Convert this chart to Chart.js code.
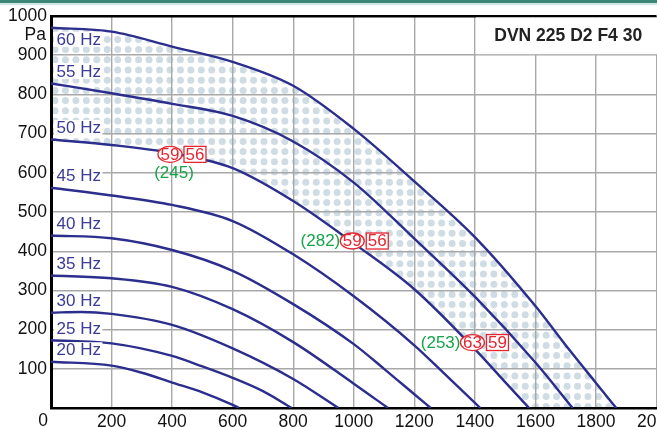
<!DOCTYPE html>
<html>
<head>
<meta charset="utf-8">
<script src="https://cdn.jsdelivr.net/npm/chart.js@4.4.1/dist/chart.umd.min.js"></script>
<style>
  html, body { margin: 0; padding: 0; background: #fff; overflow: hidden; }
  #wrap { position: absolute; left: 0; top: 0; width: 680px; height: 427px; }
  #bar { position: absolute; left: 0; top: 0; width: 657px; height: 3px; background: #3d8577; border-bottom: 2px solid #d3e5e1; }
</style>
</head>
<body>
<div id="wrap"><canvas id="fanChart" width="680" height="427"></canvas></div>
<div id="bar"></div>
<script>
const model = 'DVN 225 D2 F4 30';
const unitLabel = 'Pa';
const xTicks = [0, 200, 400, 600, 800, 1000, 1200, 1400, 1600, 1800, 2000];
const yTicks = [0, 100, 200, 300, 400, 500, 600, 700, 800, 900, 1000];

const speeds = ['20 Hz', '25 Hz', '30 Hz', '35 Hz', '40 Hz', '45 Hz', '50 Hz', '55 Hz', '60 Hz'];
// [flow, pressure]
const hz20 = [[0,118],[200,108],[300,90],[400,65],[500,40],[600,8],[621,0]];
const hz25 = [[0,173],[200,165],[400,133],[500,106],[600,77],[700,43],[795,0]];
const hz30 = [[0,243],[100,245],[200,240],[400,212],[600,152],[800,74],[949,0]];
const hz35 = [[0,338],[200,331],[400,309],[600,252],[800,168],[1000,62],[1113,0]];
const hz40 = [[0,440],[200,433],[400,403],[600,350],[800,265],[1000,163],[1100,100],[1200,35],[1254,0]];
const hz45 = [[0,562],[200,542],[400,518],[600,477],[800,392],[1000,285],[1200,160],[1300,87],[1418,0]];
const hz50 = [[0,685],[200,671],[400,650],[600,612],[800,528],[1000,420],[1200,303],[1400,150],[1500,66],[1579,0]];
const hz55 = [[0,828],[200,803],[400,776],[600,745],[800,680],[1000,575],[1200,432],[1400,284],[1600,116],[1723,0]];
const hz60 = [[0,970],[200,960],[400,922],[600,883],[800,822],[1000,712],[1200,578],[1400,436],[1600,260],[1700,160],[1800,64],[1867,0]];
const curves = [hz20, hz25, hz30, hz35, hz40, hz45, hz50, hz55, hz60];

// working points: flow, pressure, efficiency circle, box value, power
const workFlow = [393, 995, 1392];
const workPress = [647, 426, 167];
const workCircle = ['59', '59', '63'];
const workBox = ['56', '56', '59'];
const workPower = ['(245)', '(282)', '(253)'];
const workPowerSide = ['below', 'left', 'left'];

const lineColor = '#2b2e8c';
const hzColor = '#3a3a98';
const red = '#e52630';
const green = '#16a349';
const font = '"Liberation Sans", Arial, sans-serif';

function tracePath(ctx, line, reverse, move) {
  line.pathSegment(ctx, line.segments[0], { move: move, reverse: reverse });
}

const decorations = {
  id: 'decorations',
  beforeDraw(chart) {
    // dotted band between 50 Hz and 60 Hz, under the grid
    const ctx = chart.ctx, xs = chart.scales.x, ys = chart.scales.y, area = chart.chartArea;
    const top = chart.getDatasetMeta(8).dataset;
    const low = chart.getDatasetMeta(6).dataset;
    top.updateControlPoints(area, 'x');
    low.updateControlPoints(area, 'x');
    ctx.save();
    ctx.beginPath();
    tracePath(ctx, top, false, true);
    ctx.lineTo(xs.getPixelForValue(hz50[hz50.length - 1][0]), ys.getPixelForValue(0));
    tracePath(ctx, low, true, false);
    ctx.closePath();
    ctx.clip();
    ctx.fillStyle = '#d0dce4';
    for (let py = area.top + 3; py < area.bottom; py += 10.2) {
      for (let px = area.left + 4; px < area.right; px += 10.45) {
        ctx.beginPath();
        ctx.arc(px, py, 3.5, 0, Math.PI * 2);
        ctx.fill();
      }
    }
    ctx.restore();
  },
  beforeDatasetsDraw(chart) {
    const ctx = chart.ctx, xs = chart.scales.x, ys = chart.scales.y, area = chart.chartArea;

    // title cell without grid
    const bx = xs.getPixelForValue(1400) + 1;
    const by = ys.getPixelForValue(900) - 1;
    ctx.save();
    ctx.fillStyle = '#fff';
    ctx.fillRect(bx, area.top + 1.5, area.right - bx + 20, by - area.top - 1.5);
    ctx.fillStyle = '#222';
    ctx.font = 'bold 17.5px ' + font;
    ctx.textAlign = 'center';
    ctx.textBaseline = 'middle';
    ctx.fillText(model, (bx + xs.getPixelForValue(2000)) / 2 + 2, (area.top + by) / 2 + 1.5);
    ctx.restore();
  },
  afterDatasetsDraw(chart) {
    const ctx = chart.ctx, xs = chart.scales.x, ys = chart.scales.y, area = chart.chartArea;
    ctx.save();

    // speed labels
    ctx.font = '17px ' + font;
    ctx.textBaseline = 'middle';
    ctx.textAlign = 'left';
    speeds.forEach((s, i) => {
      const y0 = ys.getPixelForValue(curves[i][0][1]);
      const ty = i === 8 ? y0 + 12 : y0 - 11.5;
      const w = ctx.measureText(s).width;
      ctx.fillStyle = '#fff';
      ctx.fillRect(area.left + 3, ty - 8, w + 4, 15);
      ctx.fillStyle = hzColor;
      ctx.fillText(s, area.left + 5.5, ty + 0.5);
    });

    // working points
    workFlow.forEach((q, i) => {
      const cx = xs.getPixelForValue(q), cy = ys.getPixelForValue(workPress[i]);
      ctx.lineWidth = 1.3;
      ctx.strokeStyle = red;
      ctx.fillStyle = '#fff';
      ctx.beginPath();
      ctx.ellipse(cx, cy, 12, 8, 0, 0, Math.PI * 2);
      ctx.fill();
      ctx.stroke();
      const bx = cx + 14;
      ctx.fillRect(bx, cy - 8, 22, 16);
      ctx.strokeRect(bx, cy - 8, 22, 16);
      ctx.fillStyle = red;
      ctx.textAlign = 'center';
      ctx.fillText(workCircle[i], cx, cy + 0.5);
      ctx.fillText(workBox[i], bx + 11, cy + 0.5);
      ctx.fillStyle = green;
      if (workPowerSide[i] === 'below') {
        ctx.fillText(workPower[i], cx + 4, cy + 19);
      } else {
        ctx.textAlign = 'right';
        ctx.fillText(workPower[i], cx - 12, cy + 0.5);
      }
    });

    // unit and origin labels
    ctx.fillStyle = '#111';
    ctx.font = '17.5px ' + font;
    ctx.textAlign = 'right';
    ctx.fillText(unitLabel, area.left - 5, area.top + 19);
    ctx.textAlign = 'center';
    ctx.textBaseline = 'top';
    ctx.fillText('0', xs.getPixelForValue(0) - 8, area.bottom + 4);
    ctx.restore();
  }
};

const ctx = document.getElementById('fanChart').getContext('2d');
new Chart(ctx, {
  type: 'line',
  data: {
    datasets: curves.map((c, i) => ({
      label: speeds[i],
      data: c.map(p => ({ x: p[0], y: p[1] })),
      borderColor: lineColor,
      borderWidth: 2.4,
      pointRadius: 0,
      cubicInterpolationMode: 'monotone',
      fill: false
    }))
  },
  options: {
    responsive: false,
    animation: false,
    layout: { padding: { top: 16, right: 20, left: 0, bottom: 0 } },
    plugins: { legend: { display: false }, tooltip: { enabled: false } },
    scales: {
      x: {
        type: 'linear',
        min: 0,
        max: 2000,
        afterBuildTicks: s => { s.ticks = xTicks.map(v => ({ value: v })); },
        afterFit: s => { s.height = 19; },
        ticks: {
          padding: 4,
          color: '#111',
          font: { family: font, size: 17.5 },
          callback: v => (v === 0 ? '' : v)
        },
        grid: {
          drawTicks: false,
          color: c => (c.tick && c.tick.value === 0 ? 'rgba(0,0,0,0)' : '#a8a8a8'),
          lineWidth: 1.4
        },
        border: { color: '#000', width: 2.5 }
      },
      y: {
        type: 'linear',
        min: 0,
        max: 1000,
        afterBuildTicks: s => { s.ticks = yTicks.map(v => ({ value: v })); },
        afterFit: s => { s.width = 51; },
        ticks: {
          padding: 4,
          color: '#111',
          font: { family: font, size: 17.5 },
          callback: v => (v === 0 ? '' : v)
        },
        grid: {
          drawTicks: false,
          color: c => (c.tick && c.tick.value === 1000 ? '#000' : (c.tick && c.tick.value === 0 ? 'rgba(0,0,0,0)' : '#a8a8a8')),
          lineWidth: c => (c.tick && c.tick.value === 1000 ? 2.5 : 1.4)
        },
        border: { color: '#000', width: 3 }
      }
    }
  },
  plugins: [decorations]
});
</script>
</body>
</html>
